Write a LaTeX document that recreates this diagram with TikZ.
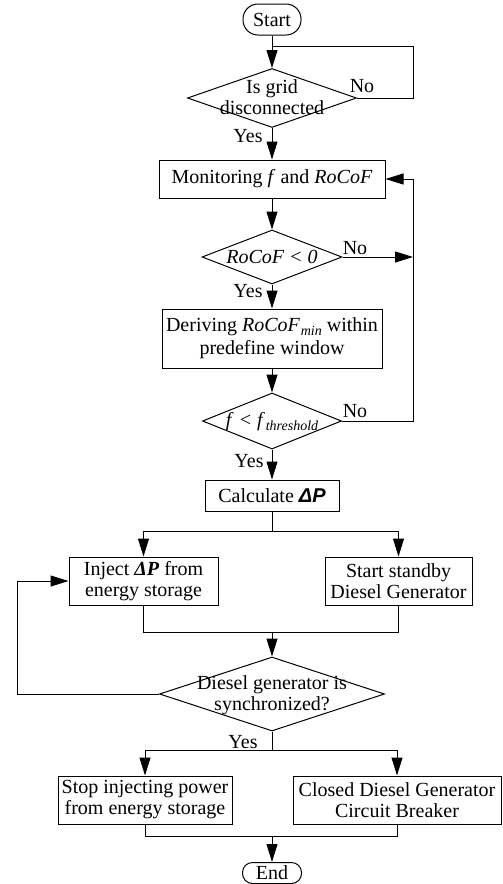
\documentclass[tikz,border=0pt]{standalone}
\usepackage{fontspec}
\setmainfont{Liberation Serif}
\newfontfamily\sansf{Liberation Sans}
\usetikzlibrary{shapes.geometric,arrows.meta}
\newcommand\mysub[1]{\kern0.8pt\raisebox{-0.18em}{\fontsize{14}{14}\selectfont\itshape #1}}
\begin{document}
\begin{tikzpicture}[x=1pt,y=-1pt,
  every node/.style={font=\fontsize{20}{21}\selectfont, inner sep=0pt},
  box/.style={draw, rectangle, line width=1pt, align=center},
  dia/.style={draw, diamond, line width=1pt},
  term/.style={draw, rectangle, line width=1pt},
  txt/.style={align=center},
  conn/.style={line width=1pt},
  arr/.style={conn, -{Triangle[length=18pt,width=11pt]}}]
\useasboundingbox (0,0) rectangle (503,884);
% nodes
\node[term, rounded corners=15pt, minimum width=58pt, minimum height=31pt] (start) at (272,19.5) {Start};
\node[dia, minimum width=169pt, minimum height=59pt] (d1) at (272,98) {};
\node[txt] (t1) at (272,97) {Is grid\\disconnected};
\node[box, minimum width=226pt, minimum height=38pt] (mon) at (272,179) {Monitoring \textit{f} and \textit{RoCoF}};
\node[dia, minimum width=140pt, minimum height=54pt] (d2) at (272,257) {};
\node[txt] (t2) at (272,257) {\textit{RoCoF} \textit{< 0}};
\node[box, minimum width=220pt, minimum height=59pt] (der) at (272,338.5) {Deriving \textit{RoCoF}\mysub{min} within\\[2pt]predefine window};
\node[dia, minimum width=139pt, minimum height=56pt] (d3) at (272,421) {};
\node[txt] (t3) at (272,422) {\textit{f} \textit{<} \textit{f}\mysub{threshold}};
\node[box, minimum width=134pt, minimum height=31pt] (calc) at (272,495.5) {Calculate {\sansf\bfseries\itshape ΔP}};
\node[box, minimum width=149pt, minimum height=48pt] (inj) at (143.5,581) {Inject \textbf{\textit{ΔP}} from\\energy storage};
\node[box, minimum width=147pt, minimum height=48pt] (sta) at (398.5,581) {Start standby\\Diesel Generator};
\node[dia, minimum width=225pt, minimum height=74pt] (d4) at (272,694) {};
\node[txt] (t4) at (272,695) {Diesel generator is\\synchronized?};
\node[box, minimum width=174pt, minimum height=48pt] (stop) at (145,800) {Stop injecting power\\from energy storage};
\node[box, minimum width=208pt, minimum height=48pt] (clo) at (397,800) {Closed Diesel Generator\\Circuit Breaker};
\node[term, rounded corners=10pt, minimum width=59pt, minimum height=21pt] (end) at (272,873) {End};
% labels
\node (no1) at (362,86) {No};
\node (no2) at (355,248) {No};
\node (no3) at (355,411) {No};
\node (yes1) at (248,136) {Yes};
\node (yes2) at (248,291) {Yes};
\node (yes3) at (249,461) {Yes};
\node (yes4) at (243,742) {Yes};
% coordinates
\coordinate (j1) at (272,46);
\coordinate (c1) at (413,46);
\coordinate (r2) at (413,257);
\coordinate (rx) at (413,179);
\coordinate (b1) at (272,531);
\coordinate (m1) at (272,632);
\coordinate (lx) at (17,694);
\coordinate (b2) at (272,750);
\coordinate (m2) at (272,836);
% connectors
\draw[arr] (start.south) -- (d1.north);
\draw[conn] (d1.east) -| (c1) -- (j1);
\draw[arr] (d1.south) -- (mon.north);
\draw[arr] (mon.south) -- (d2.north);
\draw[arr] (d2.east) -- (r2);
\draw[arr] (d2.south) -- (der.north);
\draw[arr] (der.south) -- (d3.north);
\draw[arr] (d3.east) -| (rx) -- (mon.east);
\draw[arr] (d3.south) -- (calc.north);
\draw[conn] (calc.south) -- (b1);
\draw[arr] (b1) -| (inj.north);
\draw[arr] (b1) -| (sta.north);
\draw[conn] (inj.south) |- (m1);
\draw[conn] (sta.south) |- (m1);
\draw[arr] (m1) -- (d4.north);
\draw[arr] (d4.west) -- (lx) |- (inj.west);
\draw[conn] (d4.south) -- (b2);
\draw[arr] (b2) -| (stop.north);
\draw[arr] (b2) -| (clo.north);
\draw[conn] (stop.south) |- (m2);
\draw[conn] (clo.south) |- (m2);
\draw[arr] (m2) -- (end.north);
\end{tikzpicture}
\end{document}
